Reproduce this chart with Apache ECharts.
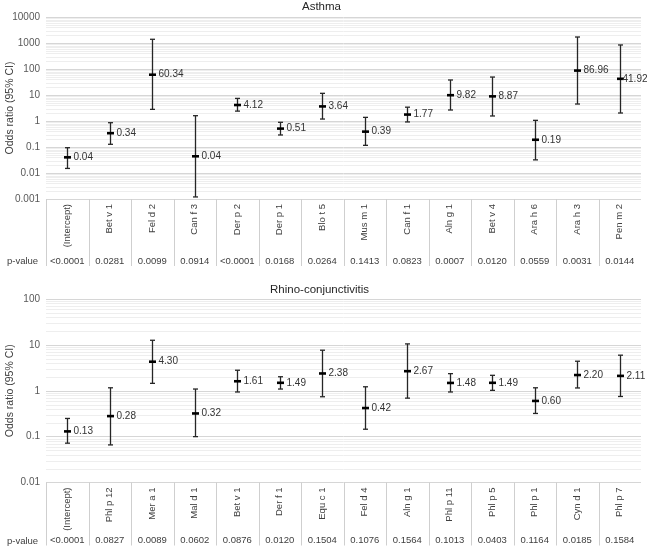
<!DOCTYPE html>
<html>
<head>
<meta charset="utf-8">
<script src="https://cdn.jsdelivr.net/npm/echarts@6/dist/echarts.min.js"></script>
<style>
  html, body { margin: 0; padding: 0; background: #fff; }
  #chart { width: 647px; height: 548px; }
</style>
</head>
<body>
<div id="chart"></div>
<script>
// Asthma panel
const asthmaCats = ['(Intercept)', 'Bet v 1', 'Fel d 2', 'Can f 3', 'Der p 2', 'Der p 1', 'Blo t 5',
  'Mus m 1', 'Can f 1', 'Aln g 1', 'Bet v 4', 'Ara h 6', 'Ara h 3', 'Pen m 2'];
const asthmaOR = [0.04, 0.34, 60.34, 0.044, 4.12, 0.51, 3.64, 0.39, 1.77, 9.82, 8.87, 0.19, 86.96, 41.92];
const asthmaLow = [0.015, 0.127, 2.8, 0.0012, 2.4, 0.29, 1.19, 0.116, 0.92, 2.65, 1.56, 0.032, 4.5, 2.03];
const asthmaHigh = [0.094, 0.86, 1390, 1.6, 7.4, 0.89, 11.6, 1.38, 3.4, 37.8, 49, 1.06, 1700, 840];
const asthmaP = ['<0.0001', '0.0281', '0.0099', '0.0914', '<0.0001', '0.0168', '0.0264', '0.1413',
  '0.0823', '0.0007', '0.0120', '0.0559', '0.0031', '0.0144'];
const asthmaTicks = ['0.001', '0.01', '0.1', '1', '10', '100', '1000', '10000'];

// Rhino-conjunctivitis panel
const rhinoCats = ['(Intercept)', 'Phl p 12', 'Mer a 1', 'Mal d 1', 'Bet v 1', 'Der f 1', 'Equ c 1',
  'Fel d 4', 'Aln g 1', 'Phl p 11', 'Phl p 5', 'Phl p 1', 'Cyn d 1', 'Phl p 7'];
const rhinoOR = [0.13, 0.28, 4.30, 0.32, 1.61, 1.49, 2.38, 0.42, 2.67, 1.48, 1.49, 0.60, 2.20, 2.11];
const rhinoLow = [0.072, 0.066, 1.45, 0.10, 0.94, 1.09, 0.74, 0.145, 0.69, 0.94, 1.02, 0.32, 1.15, 0.75];
const rhinoHigh = [0.249, 1.16, 12.6, 1.09, 2.8, 2.02, 7.65, 1.22, 10.5, 2.36, 2.17, 1.16, 4.4, 5.96];
const rhinoP = ['<0.0001', '0.0827', '0.0089', '0.0602', '0.0876', '0.0120', '0.1504', '0.1076',
  '0.1564', '0.1013', '0.0403', '0.1164', '0.0185', '0.1584'];
const rhinoTicks = ['0.01', '0.1', '1', '10', '100'];

const FONT = 'Liberation Sans, Arial, sans-serif';
const INK = '#262626';

// light minor gridlines at 2..9 of each decade
function minorValues(fromExp, toExp) {
  const out = [];
  for (let e = fromExp; e < toExp; e++) {
    for (let m = 2; m <= 9; m++) out.push([0, m * Math.pow(10, e)]);
  }
  return out;
}

function minorLine(params, api) {
  const cs = params.coordSys;
  const y = Math.round(api.coord([0, api.value(1)])[1]) + 0.5;
  return {
    type: 'line',
    shape: { x1: cs.x, y1: y, x2: cs.x + cs.width, y2: y },
    style: { stroke: '#eeeeee', lineWidth: 1 }
  };
}

function makeErrorBar(nCat, tableDepth) {
  return function (params, api) {
    const i = api.value(0);
    const pt = api.coord([i, api.value(1)]);
    const lo = api.coord([i, api.value(2)]);
    const hi = api.coord([i, api.value(3)]);
    const cs = params.coordSys;
    const band = cs.width / nCat;
    const left = Math.round(pt[0] - band / 2) + 0.5;
    const bottom = cs.y + cs.height;
    const x = Math.round(pt[0]) + 0.5;
    const label = api.value(1).toFixed(2);
    // keep the value label inside the canvas, like the last column of the reference
    let tx = x + 6;
    if (tx + label.length * 5 > api.getWidth()) tx = x + 2;
    return {
      type: 'group',
      children: [
        { type: 'line', shape: { x1: left, y1: bottom, x2: left, y2: bottom + tableDepth },
          style: { stroke: '#cfcfcf', lineWidth: 1 } },
        { type: 'line', shape: { x1: x, y1: hi[1], x2: x, y2: lo[1] },
          style: { stroke: INK, lineWidth: 1.3 } },
        { type: 'line', shape: { x1: x - 2.5, y1: hi[1], x2: x + 2.5, y2: hi[1] },
          style: { stroke: INK, lineWidth: 1.3 } },
        { type: 'line', shape: { x1: x - 2.5, y1: lo[1], x2: x + 2.5, y2: lo[1] },
          style: { stroke: INK, lineWidth: 1.3 } },
        { type: 'line', shape: { x1: x - 3.5, y1: pt[1], x2: x + 3.5, y2: pt[1] },
          style: { stroke: '#000', lineWidth: 2.6 } },
        { type: 'text', style: { x: tx, y: pt[1], text: label,
          fill: '#333', fontSize: 10, fontFamily: FONT, verticalAlign: 'middle', align: 'left' } }
      ]
    };
  };
}

function barData(or, lo, hi) {
  return or.map((v, i) => [i, v, lo[i], hi[i]]);
}

function yAxis(gridIndex, min, max, ticks) {
  const base = Math.round(Math.log10(min));
  return {
    type: 'log', gridIndex: gridIndex, logBase: 10, min: min, max: max,
    splitNumber: ticks.length - 1,
    name: 'Odds ratio (95% CI)', nameLocation: 'middle', nameGap: 30, nameMoveOverlap: false,
    nameTextStyle: { fontSize: 10.5, color: '#404040', fontFamily: FONT },
    axisLine: { show: false }, axisTick: { show: false },
    axisLabel: { fontSize: 10, color: '#595959', fontFamily: FONT, margin: 6,
      formatter: v => ticks[Math.round(Math.log10(v)) - base] },
    splitLine: { lineStyle: { color: '#d6d6d6', width: 1 } }
  };
}

function catAxis(gridIndex, cats) {
  return {
    type: 'category', gridIndex: gridIndex, data: cats, position: 'bottom',
    axisLine: { show: false }, axisTick: { show: false }, splitLine: { show: false },
    axisLabel: { rotate: 90, interval: 0, margin: 5, fontSize: 9.5, color: '#404040', fontFamily: FONT }
  };
}

function pAxis(gridIndex, pvals, offset) {
  return {
    type: 'category', gridIndex: gridIndex, data: pvals, position: 'bottom', offset: offset,
    axisLine: { show: false }, axisTick: { show: false }, splitLine: { show: false },
    axisLabel: { interval: 0, margin: 0, fontSize: 9.5, color: '#404040', fontFamily: FONT }
  };
}

const chart = echarts.init(document.getElementById('chart'));
chart.setOption({
  animation: false,
  backgroundColor: '#fff',
  title: [
    { text: 'Asthma', left: 302, top: 1, padding: 0,
      textStyle: { fontSize: 11.5, fontWeight: 'normal', color: '#262626', fontFamily: FONT } },
    { text: 'Rhino-conjunctivitis', left: 270, top: 284, padding: 0,
      textStyle: { fontSize: 11.5, fontWeight: 'normal', color: '#262626', fontFamily: FONT } }
  ],
  grid: [
    { left: 46, right: 6, top: 17, height: 182, outerBoundsMode: 'none' },
    { left: 46, right: 6, top: 299, height: 183.5, outerBoundsMode: 'none' }
  ],
  xAxis: [
    catAxis(0, asthmaCats),
    pAxis(0, asthmaP, 57),
    catAxis(1, rhinoCats),
    pAxis(1, rhinoP, 53)
  ],
  yAxis: [
    yAxis(0, 0.001, 10000, asthmaTicks),
    yAxis(1, 0.01, 100, rhinoTicks)
  ],
  graphic: [
    { type: 'text', left: 7, top: 256,
      style: { text: 'p-value', fontSize: 9.5, fill: '#404040', fontFamily: FONT } },
    { type: 'text', left: 7, top: 536,
      style: { text: 'p-value', fontSize: 9.5, fill: '#404040', fontFamily: FONT } }
  ],
  series: [
    { type: 'custom', name: 'asthmaMinor', xAxisIndex: 0, yAxisIndex: 0, z: 1, silent: true,
      renderItem: minorLine, data: minorValues(-3, 4) },
    { type: 'custom', name: 'Asthma', xAxisIndex: 0, yAxisIndex: 0, z: 3, clip: false, silent: true,
      encode: { x: 0, y: [1, 2, 3] },
      renderItem: makeErrorBar(asthmaCats.length, 67), data: barData(asthmaOR, asthmaLow, asthmaHigh) },
    { type: 'custom', name: 'rhinoMinor', xAxisIndex: 2, yAxisIndex: 1, z: 1, silent: true,
      renderItem: minorLine, data: minorValues(-2, 2) },
    { type: 'custom', name: 'Rhino-conjunctivitis', xAxisIndex: 2, yAxisIndex: 1, z: 3, clip: false, silent: true,
      encode: { x: 0, y: [1, 2, 3] },
      renderItem: makeErrorBar(rhinoCats.length, 63), data: barData(rhinoOR, rhinoLow, rhinoHigh) }
  ]
});
</script>
</body>
</html>
